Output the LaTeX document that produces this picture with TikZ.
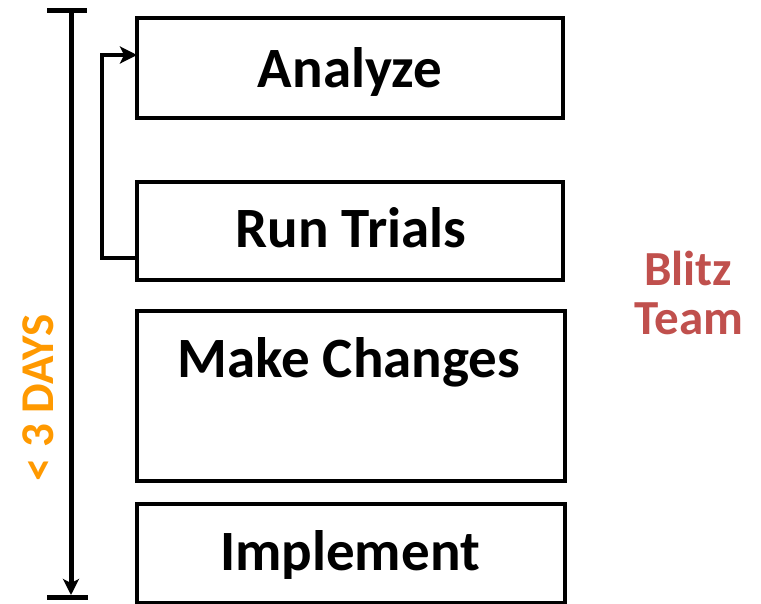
\documentclass[tikz,border=0pt]{standalone}
\usepackage{fontspec}
\setmainfont{Carlito}
\usetikzlibrary{arrows.meta,calc}
\definecolor{blitzred}{RGB}{192,80,77}
\definecolor{dayorange}{RGB}{255,153,0}
\tikzset{
  stepbox/.style={draw=black, line width=4.5pt, fill=white},
  bar/.style={line width=5pt},
  loopline/.style={line width=4.5pt},
  boxtext/.style={font=\bfseries\fontsize{57}{60}\selectfont, inner sep=0pt, anchor=base},
  sidetext/.style={font=\bfseries\fontsize{49}{49}\selectfont, inner sep=0pt},
}
\begin{document}
\begin{tikzpicture}[x=1pt, y=-1pt]
\useasboundingbox (0,0) rectangle (761,603);

% step boxes
\draw[stepbox] (137,18) rectangle (563,118);
\coordinate (analyzeL) at (137,55);
\draw[stepbox] (137,182) rectangle (563,280);
\coordinate (trialsL) at (137,258);
\draw[stepbox] (137,311) rectangle (565,481);
\draw[stepbox] (137,504) rectangle (565,603);

% labels (base anchor at each baseline)
\node[boxtext] (analyze) at (350,87) {Analyze};
\node[boxtext] (trials) at (351,247) {Run Trials};
\node[boxtext] (changes) at (349,377) {Make Changes};
\node[boxtext] (implement) at (350,570) {Implement};

% feedback loop from Run Trials back to Analyze
\coordinate (loopA) at (102,258);
\coordinate (loopB) at (102,55);
\draw[loopline, -{Stealth[length=17pt, width=17pt, inset=4pt]}]
  (trialsL) -- (loopA) -- (loopB) -- (analyzeL);

% time bar on the left
\coordinate (barTop) at (71,10);
\coordinate (barBot) at (71,597);
\draw[bar] (47,10) -- (87,10);
\draw[bar] (47,597) -- (88,597);
\draw[bar, -{Stealth[length=16pt, width=16pt, inset=4pt]}] (barTop) -- ($(barBot)+(0,-2)$);

% duration label
\node[sidetext, font=\bfseries\fontsize{47}{50}\selectfont, text=dayorange, rotate=90] (days) at (38,398) {< 3 DAYS};

% team label
\node[sidetext, text=blitzred, anchor=base] (blitz) at (688,285) {Blitz};
\node[sidetext, text=blitzred, anchor=base] (team) at (689,334) {Team};
\end{tikzpicture}
\end{document}
